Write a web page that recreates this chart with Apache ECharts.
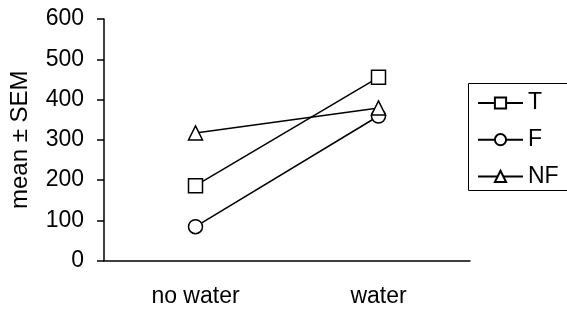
<!DOCTYPE html>
<html>
<head>
<meta charset="utf-8">
<script src="https://cdn.jsdelivr.net/npm/echarts@6/dist/echarts.min.js"></script>
<style>
html,body{margin:0;padding:0;background:#fff;}
#chartmain{width:567px;height:313px;}
</style>
</head>
<body>
<div id="chartmain"></div>
<script>
// categories and series values
var categories = ['no water', 'water'];
var seriesNames = ['T', 'F', 'NF'];
var valuesT = [186, 455];
var valuesF = [84, 359];
var valuesNF = [317, 379];
var yTicks = [0, 100, 200, 300, 400, 500, 600];

var font = 'Arial, "Liberation Sans", sans-serif';

function lineSeries(name, symbol, data) {
    return {
        name: name,
        type: 'line',
        data: data,
        symbol: symbol,
        symbolSize: 14,
        showAllSymbol: true,
        itemStyle: { color: '#fff', borderColor: '#000', borderWidth: 1.5 },
        lineStyle: { color: '#000', width: 1.5 },
        emphasis: { disabled: true },
        animation: false
    };
}

var option = {
    backgroundColor: '#fff',
    grid: { left: 104, top: 19, width: 366, height: 241.5 },
    // legend frame runs off the right edge, as in the original
    graphic: [{
        type: 'rect',
        shape: { x: 468.5, y: 83.5, width: 160, height: 107 },
        style: { fill: 'none', stroke: '#000', lineWidth: 1 },
        silent: true
    }],
    legend: {
        left: 468,
        top: 83,
        orient: 'vertical',
        data: seriesNames,
        padding: [8.5, 10, 3, 9],
        itemWidth: 45,
        itemHeight: 14,
        itemGap: 13.7,
        textStyle: { fontFamily: font, fontSize: 23, color: '#000' }
    },
    xAxis: {
        type: 'category',
        data: categories,
        boundaryGap: true,
        axisLine: { lineStyle: { color: '#000', width: 1.5 } },
        axisTick: { show: false },
        axisLabel: { margin: 25, fontFamily: font, fontSize: 23, color: '#000' }
    },
    yAxis: {
        type: 'value',
        min: yTicks[0],
        max: yTicks[yTicks.length - 1],
        interval: 100,
        name: 'mean ± SEM',
        nameLocation: 'middle',
        nameGap: 72,
        nameTextStyle: { fontFamily: font, fontSize: 24, color: '#000' },
        axisLine: { show: true, lineStyle: { color: '#000', width: 1.5 } },
        axisTick: { show: true, length: 7, lineStyle: { color: '#000', width: 1.5 } },
        splitLine: { show: false },
        axisLabel: { margin: 20, fontFamily: font, fontSize: 23, color: '#000' }
    },
    series: [
        lineSeries('T', 'rect', valuesT),
        lineSeries('F', 'circle', valuesF),
        lineSeries('NF', 'triangle', valuesNF)
    ]
};

var myChart = echarts.init(document.getElementById('chartmain'));
myChart.setOption(option);
</script>
</body>
</html>
